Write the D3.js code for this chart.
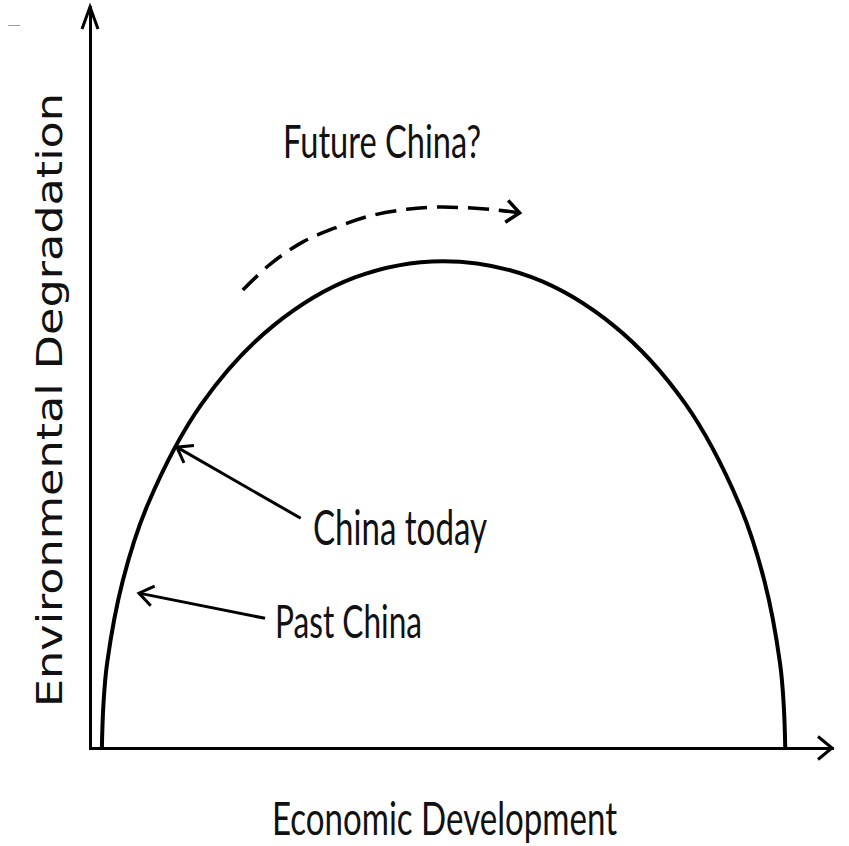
<!DOCTYPE html>
<html>
<head>
<meta charset="utf-8">
<script src="https://cdn.jsdelivr.net/npm/d3@7"></script>
<style>
  html, body { margin: 0; padding: 0; background: #fff; }
  svg { display: block; }
</style>
</head>
<body>
<svg id="chart" width="849" height="846"></svg>
<script>
// ---- Data (conceptual units: 0-100 on both axes) ----
const curveX = [1.6, 1.8, 2.3, 4.4, 7.8, 15.1, 24.6, 35.7, 47.6, 59.6, 70.7, 80.2, 87.5, 90.9, 93.0, 93.5, 93.7];
const curveY = [0, 5.7, 11.4, 22.5, 32.9, 46.5, 56.9, 63.5, 65.7, 63.5, 56.9, 46.5, 32.9, 22.5, 11.4, 5.7, 0];

const futureX = [20.6, 24.3, 28.7, 33.3, 37.7, 42.7, 46.8, 50.8, 54.9, 57.9];
const futureY = [61.8, 65.3, 68.3, 70.3, 71.8, 72.7, 73.0, 72.9, 72.6, 72.2];

const arrowLabels = ["China today", "Past China"];
const arrowFromX = [28.4, 23.6];
const arrowFromY = [31.0, 17.5];
const arrowToX = [11.7, 6.6];
const arrowToY = [40.6, 20.9];

const xTitle = "Economic Development";
const yTitle = "Environmental Degradation";
const futureLabel = "Future China?";

// ---- Scales ----
const svg = d3.select("#chart");
const x = d3.scaleLinear().domain([0, 100]).range([90, 832]);
const y = d3.scaleLinear().domain([0, 100]).range([748, 7]);

// chevron helper
function chevron(tx, ty, fx, fy, back, half) {
  const dx = tx - fx, dy = ty - fy;
  const len = Math.hypot(dx, dy);
  const ux = dx / len, uy = dy / len;
  const px = -uy, py = ux;
  const bx = tx - back * ux, by = ty - back * uy;
  return `M${bx + half * px},${by + half * py}L${tx},${ty}L${bx - half * px},${by - half * py}`;
}

// tiny artifact dash top-left
svg.append("line").attr("x1", 8).attr("x2", 20).attr("y1", 25.5).attr("y2", 25.5)
  .attr("stroke", "#9a9a9a").attr("stroke-width", 1);

// ---- Axes ----
const gx = svg.append("g").attr("transform", `translate(0,${y(0)})`)
  .call(d3.axisBottom(x).tickValues([]).tickSizeOuter(0));
const gy = svg.append("g").attr("transform", `translate(${x(0)},0)`)
  .call(d3.axisLeft(y).tickValues([]).tickSizeOuter(0));
svg.selectAll(".domain").attr("stroke", "#000").attr("stroke-width", 3).attr("stroke-linecap", "square");

svg.append("path")
  .attr("d", chevron(x(100), y(0), x(0), y(0), 14, 11.5))
  .attr("fill", "none").attr("stroke", "#000").attr("stroke-width", 3).attr("stroke-linejoin", "miter");
svg.append("path")
  .attr("d", chevron(x(0), y(100), x(0), y(0), 22, 8))
  .attr("fill", "none").attr("stroke", "#000").attr("stroke-width", 3).attr("stroke-linejoin", "miter");

// ---- Main curve ----
const curvePts = curveX.map((d, i) => [d, curveY[i]]);
const line = d3.line().x(d => x(d[0])).y(d => y(d[1])).curve(d3.curveCatmullRom.alpha(0.5));
svg.append("path").datum(curvePts)
  .attr("d", line)
  .attr("fill", "none").attr("stroke", "#000").attr("stroke-width", 4);

// ---- Future dashed arrow ----
const futurePts = futureX.map((d, i) => [d, futureY[i]]);
svg.append("path").datum(futurePts)
  .attr("d", line)
  .attr("fill", "none").attr("stroke", "#000").attr("stroke-width", 3.5)
  .attr("stroke-dasharray", "21,10");
const fn = futurePts.length;
svg.append("path")
  .attr("d", chevron(x(futureX[fn - 1]), y(futureY[fn - 1]), x(futureX[fn - 2]), y(futureY[fn - 2]), 13, 11))
  .attr("fill", "none").attr("stroke", "#000").attr("stroke-width", 3.5);

// ---- Pointer arrows ----
arrowLabels.forEach((lab, i) => {
  const fx = x(arrowFromX[i]), fy = y(arrowFromY[i]);
  const tx = x(arrowToX[i]), ty = y(arrowToY[i]);
  svg.append("line").attr("x1", fx).attr("y1", fy).attr("x2", tx).attr("y2", ty)
    .attr("stroke", "#000").attr("stroke-width", 3);
  svg.append("path").attr("d", chevron(tx, ty, fx, fy, 14, 10))
    .attr("fill", "none").attr("stroke", "#000").attr("stroke-width", 3);
});

// ---- Text ----
const font = "Lato, 'Open Sans', sans-serif";
function label(txt, xs, ys, len, size) {
  svg.append("text").attr("x", xs).attr("y", ys)
    .attr("font-family", font).attr("font-size", size).attr("fill", "#111")
    .attr("textLength", len).attr("lengthAdjust", "spacingAndGlyphs")
    .text(txt);
}
label(futureLabel, 283, 158, 198, 47);
label(arrowLabels[0], 313, 545, 174, 48);
label(arrowLabels[1], 275, 638, 147, 46);
label(xTitle, 272, 835, 345, 47);

svg.append("text")
  .attr("transform", `translate(62,707) rotate(-90)`)
  .attr("font-family", "'DejaVu Sans', Verdana, sans-serif")
  .attr("font-size", 36).attr("fill", "#111")
  .attr("textLength", 614).attr("lengthAdjust", "spacingAndGlyphs")
  .text(yTitle);
</script>
</body>
</html>
